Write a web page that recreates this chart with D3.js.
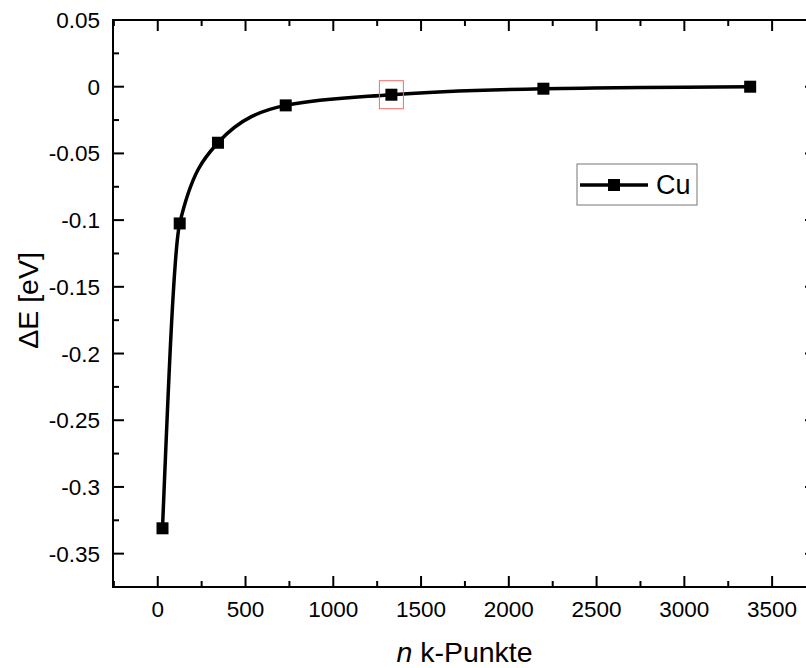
<!DOCTYPE html>
<html>
<head>
<meta charset="utf-8">
<script src="https://cdn.jsdelivr.net/npm/d3@7"></script>
<style>
  body { margin: 0; background: #fff; }
  svg { display: block; font-family: Arial, "Liberation Sans", sans-serif; }
</style>
</head>
<body>
<svg id="chart" width="806" height="668"></svg>
<script>
// k-point convergence of the total energy for Cu
const kPoints = [27, 125, 343, 729, 1331, 2197, 3375];
const deltaE = [-0.331, -0.1025, -0.042, -0.014, -0.006, -0.0015, 0];
const xTicks = [0, 500, 1000, 1500, 2000, 2500, 3000, 3500];
const yTicks = [0.05, 0, -0.05, -0.1, -0.15, -0.2, -0.25, -0.3, -0.35];
const seriesName = "Cu";
const highlightIndex = 4;

const svg = d3.select("#chart");
const pLeft = 113, pRight = 816, pTop = 20, pBottom = 587;

const x = d3.scaleLinear().domain([-255, 3750]).range([pLeft, pRight]);
const y = d3.scaleLinear().domain([-0.375, 0.05]).range([pBottom, pTop]);

const data = kPoints.map((k, i) => ({ k, e: deltaE[i] }));

// minor tick positions between the labelled ones
const xMinor = d3.range(-250, 3751, 250).filter(v => v % 500 !== 0);
const yMinor = d3.range(-0.375, 0.051, 0.025).map(v => +v.toFixed(3))
  .filter(v => Math.abs(Math.round(v / 0.05) * 0.05 - v) > 1e-6);

const g = svg.append("g");

// inward-pointing ticks on all four sides
function ticks(sel, vals, len, horiz) {
  vals.forEach(v => {
    if (horiz) {
      const px = x(v);
      sel.append("line").attr("x1", px).attr("x2", px).attr("y1", pBottom).attr("y2", pBottom - len);
      sel.append("line").attr("x1", px).attr("x2", px).attr("y1", pTop).attr("y2", pTop + len);
    } else {
      const py = y(v);
      sel.append("line").attr("y1", py).attr("y2", py).attr("x1", pLeft).attr("x2", pLeft + len);
      sel.append("line").attr("y1", py).attr("y2", py).attr("x1", pRight).attr("x2", pRight - len);
    }
  });
}
const tg = g.append("g").attr("stroke", "#000").attr("stroke-width", 2);
ticks(tg, xTicks, 11, true);
ticks(tg, xMinor, 6, true);
ticks(tg, yTicks, 11, false);
ticks(tg, yMinor, 6, false);

// frame
g.append("rect").attr("x", pLeft).attr("y", pTop)
  .attr("width", pRight - pLeft).attr("height", pBottom - pTop)
  .attr("fill", "none").attr("stroke", "#000").attr("stroke-width", 2);

// tick labels
g.append("g").selectAll("text").data(xTicks).join("text")
  .attr("x", d => x(d)).attr("y", pBottom + 30)
  .attr("text-anchor", "middle").attr("font-size", 22.5).text(d => d);
g.append("g").selectAll("text").data(yTicks).join("text")
  .attr("x", pLeft - 13).attr("y", d => y(d) + 8)
  .attr("text-anchor", "end").attr("font-size", 22.5).text(d => d);

// axis titles
const xt = g.append("text").attr("x", (pLeft + pRight) / 2).attr("y", 662)
  .attr("text-anchor", "middle").attr("font-size", 28.5);
xt.append("tspan").attr("font-style", "italic").text("n");
xt.append("tspan").text(" k-Punkte");
g.append("text")
  .attr("transform", `translate(38,${(pTop + pBottom) / 2 - 3}) rotate(-90)`)
  .attr("text-anchor", "middle").attr("font-size", 28.5).text("ΔE [eV]");

// smoothed curve through the points
const line = d3.line().x(d => x(d.k)).y(d => y(d.e)).curve(d3.curveMonotoneX);
g.append("path").datum(data).attr("d", line)
  .attr("fill", "none").attr("stroke", "#000").attr("stroke-width", 3.5);

const ms = 12;
g.append("g").selectAll("rect").data(data).join("rect")
  .attr("x", d => x(d.k) - ms / 2).attr("y", d => y(d.e) - ms / 2)
  .attr("width", ms).attr("height", ms).attr("fill", "#000");

// selection box on one point
const hp = data[highlightIndex];
g.append("rect")
  .attr("x", x(hp.k) - 12).attr("y", y(hp.e) - 14)
  .attr("width", 24).attr("height", 28)
  .attr("fill", "none").attr("stroke", "#f26b6b").attr("stroke-width", 1);

// legend
const lg = g.append("g");
lg.append("rect").attr("x", 577).attr("y", 164).attr("width", 120).attr("height", 41)
  .attr("fill", "#fff").attr("stroke", "#777").attr("stroke-width", 1);
lg.append("line").attr("x1", 580).attr("x2", 648).attr("y1", 185).attr("y2", 185)
  .attr("stroke", "#000").attr("stroke-width", 3.5);
lg.append("rect").attr("x", 608).attr("y", 179).attr("width", ms).attr("height", ms).attr("fill", "#000");
lg.append("text").attr("x", 656).attr("y", 194).attr("font-size", 27).text(seriesName);
</script>
</body>
</html>
